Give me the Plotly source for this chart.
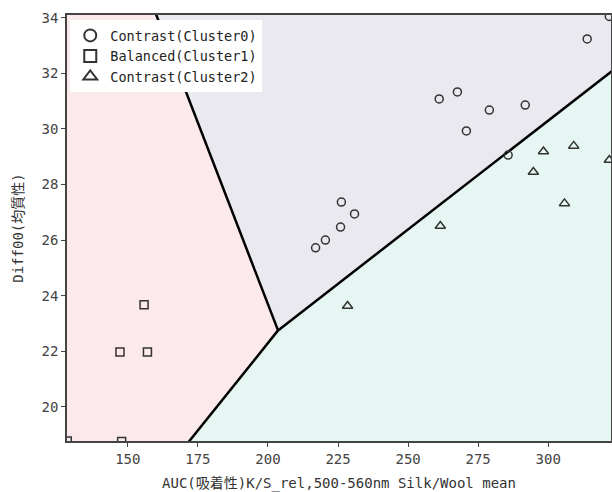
import plotly.graph_objects as go

# ---- data ----
c0_x = [217.0, 220.5, 226.2, 225.9, 230.9, 261.1, 267.6, 270.8, 279.0, 291.8, 285.7, 313.9, 321.8]
c0_y = [25.72, 26.00, 27.37, 26.47, 26.94, 31.08, 31.33, 29.93, 30.68, 30.86, 29.06, 33.24, 34.05]

c1_x = [155.8, 147.2, 157.0, 147.8, 128.4]
c1_y = [23.67, 21.97, 21.97, 18.75, 18.77]

c2_x = [298.3, 309.1, 294.7, 305.8, 321.8, 261.5, 228.4]
c2_y = [29.19, 29.39, 28.45, 27.32, 28.88, 26.51, 23.63]

# decision boundaries (nearest-centroid regions)
edge01_x = [152.9, 203.6]
edge01_y = [36.0, 22.75]
edge12_x = [157.9, 203.6]
edge12_y = [17.0, 22.75]
edge02_x = [203.6, 330.0]
edge02_y = [22.75, 32.65]

x_range = [128.3, 322.4]
y_range = [18.77, 34.1]
x_ticks = [150, 175, 200, 225, 250, 275, 300]
y_ticks = [20, 22, 24, 26, 28, 30, 32, 34]

names = ["Contrast(Cluster0)", "Balanced(Cluster1)", "Contrast(Cluster2)"]
region_colors = ["#ebe9f0", "#fbe9ec", "#e6f6f3"]

FONT = "DejaVu Sans Mono, Noto Sans CJK JP, monospace"

fig = go.Figure()

lo_x, hi_x, lo_y, hi_y = 110, 340, 16, 37
fig.add_trace(go.Scatter(
    x=[lo_x, edge12_x[0], edge12_x[1], edge01_x[0], lo_x, lo_x],
    y=[lo_y, edge12_y[0], edge12_y[1], edge01_y[0], edge01_y[0], lo_y],
    fill="toself", fillcolor=region_colors[1], mode="none",
    showlegend=False, hoverinfo="skip"))
fig.add_trace(go.Scatter(
    x=[edge01_x[0], edge01_x[1], edge02_x[1], edge02_x[1], edge01_x[0]],
    y=[edge01_y[0], edge01_y[1], edge02_y[1], hi_y, hi_y],
    fill="toself", fillcolor=region_colors[0], mode="none",
    showlegend=False, hoverinfo="skip"))
fig.add_trace(go.Scatter(
    x=[edge12_x[0], edge12_x[1], edge02_x[1], edge02_x[1], edge12_x[0]],
    y=[edge12_y[0], edge12_y[1], edge02_y[1], lo_y, lo_y],
    fill="toself", fillcolor=region_colors[2], mode="none",
    showlegend=False, hoverinfo="skip"))

for ex, ey in [(edge01_x, edge01_y), (edge12_x, edge12_y), (edge02_x, edge02_y)]:
    fig.add_trace(go.Scatter(x=ex, y=ey, mode="lines",
                             line=dict(color="black", width=2.5),
                             showlegend=False, hoverinfo="skip"))

mk_line = dict(color="#333333", width=1.5)
for xs, ys, nm, sym, sz in [(c0_x, c0_y, names[0], "circle-open", 8),
                            (c1_x, c1_y, names[1], "square-open", 8),
                            (c2_x, c2_y, names[2], "triangle-up-open", 9)]:
    fig.add_trace(go.Scatter(x=xs, y=ys, mode="markers", name=nm,
                             marker=dict(symbol=sym, size=sz, color="#333333",
                                         line=mk_line)))

fig.update_layout(
    width=612, height=492,
    margin=dict(l=67, r=1, t=15, b=51, autoexpand=False),
    paper_bgcolor="white", plot_bgcolor="white",
    font=dict(family=FONT, size=13, color="#333333"),
    legend=dict(x=0.006, y=0.988, xanchor="left", yanchor="top",
                bgcolor="white", font=dict(family=FONT, size=13.5, color="#222222"),
                tracegroupgap=0, itemsizing="constant"),
)
fig.update_xaxes(range=x_range, tickvals=x_ticks, showgrid=False, zeroline=False,
                 automargin=False,
                 showline=True, linecolor="#444444", linewidth=1.5, mirror=True,
                 ticks="outside", ticklen=4, tickcolor="#444444",
                 tickfont=dict(family=FONT, size=14, color="#444444"),
                 title=dict(text="AUC(吸着性)K/S_rel,500-560nm Silk/Wool mean",
                            font=dict(family=FONT, size=14, color="#333333")))
fig.update_yaxes(range=y_range, tickvals=y_ticks, showgrid=False, zeroline=False,
                 automargin=False,
                 showline=True, linecolor="#444444", linewidth=1.5, mirror=True,
                 ticks="outside", ticklen=4, tickcolor="#444444",
                 tickfont=dict(family=FONT, size=14, color="#444444"),
                 title=dict(text="Diff00(均質性)",
                            font=dict(family=FONT, size=14, color="#333333")))

fig.write_html("out.html", config={"displayModeBar": False},
               post_script="document.body.style.margin='0';document.body.style.overflow='hidden';")
